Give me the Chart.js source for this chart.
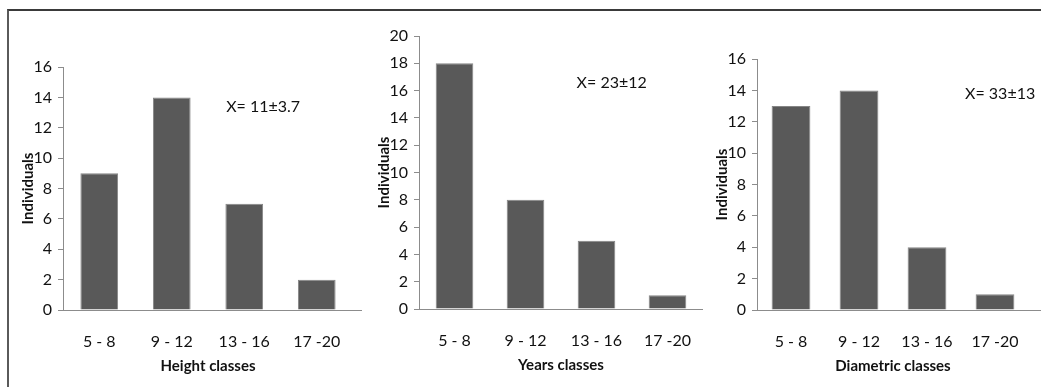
<!DOCTYPE html>
<html>
<head>
<meta charset="utf-8">
<script src="https://cdn.jsdelivr.net/npm/chart.js@4"></script>
<style>
  body { margin: 0; background: #fff; }
  #wrap { position: relative; width: 1041px; height: 387px; overflow: hidden; }
  #frame { position: absolute; left: 7px; top: 9px; width: 1040px; height: 380px;
           border-top: 2px solid #3a3a3a; border-left: 2px solid #5a5a5a; }
  canvas { position: absolute; left: 0; top: 0; }
</style>
</head>
<body>
<div id="wrap">
  <div id="frame"></div>
  <canvas id="c1" width="1041" height="387"></canvas>
  <canvas id="c2" width="1041" height="387"></canvas>
  <canvas id="c3" width="1041" height="387"></canvas>
</div>
<script>
var classes = ['5 - 8', '9 - 12', '13 - 16', '17 -20'];

var heightValues = [9, 14, 7, 2];
var yearsValues = [18, 8, 5, 1];
var diameterValues = [13, 14, 4, 1];

var heightTitle = 'Height classes';
var yearsTitle = 'Years classes';
var diameterTitle = 'Diametric classes';

var heightNote = 'X= 11\u00B13.7';
var yearsNote = 'X= 23\u00B112';
var diameterNote = 'X= 33\u00B113';

var FONT = 'Lato, sans-serif';

// writes the mean +- sd text inside the plot
var notePlugin = {
    id: 'note',
    afterDatasetsDraw: function (chart, args, opts) {
        var ctx = chart.ctx;
        var x = chart.scales.x.getPixelForValue(opts.x);
        var y = chart.scales.y.getPixelForValue(opts.y);
        ctx.save();
        ctx.font = '16px ' + FONT;
        ctx.fillStyle = '#111';
        ctx.textAlign = 'left';
        ctx.textBaseline = 'middle';
        ctx.fillText(opts.text, x, y);
        ctx.restore();
    }
};

// the baseline runs a little past the plot like in excel
var baselinePlugin = {
    id: 'baseline',
    afterDraw: function (chart, args, opts) {
        var ctx = chart.ctx;
        var area = chart.chartArea;
        var y = chart.scales.y.getPixelForValue(0);
        ctx.save();
        ctx.strokeStyle = '#8c8c8c';
        ctx.lineWidth = 1;
        ctx.beginPath();
        ctx.moveTo(area.left - 5, Math.round(y) + 0.5);
        ctx.lineTo(area.right + opts.extra, Math.round(y) + 0.5);
        ctx.stroke();
        ctx.restore();
    }
};

function makeChart(id, values, xTitle, note, yMax, box, barPct, extra) {
    var ctx = document.getElementById(id);
    return new Chart(ctx, {
        type: 'bar',
        data: {
            labels: classes,
            datasets: [{
                data: values,
                backgroundColor: '#595959',
                borderColor: '#858585',
                borderWidth: 1,
                barPercentage: barPct,
                categoryPercentage: 1
            }]
        },
        options: {
            responsive: false,
            animation: false,
            events: [],
            layout: {
                padding: {
                    left: box.L - 60,
                    top: box.T,
                    right: 1041 - box.R,
                    bottom: 387 - box.B - 70
                }
            },
            plugins: {
                legend: { display: false },
                tooltip: { enabled: false },
                note: note,
                baseline: { extra: extra }
            },
            scales: {
                x: {
                    grid: { display: false },
                    border: { display: false },
                    ticks: { color: '#111', padding: 14, font: { family: FONT, size: 16 } },
                    title: {
                        display: true,
                        text: xTitle,
                        color: '#111',
                        padding: { top: 0, bottom: 5 },
                        font: { family: FONT, size: 15, weight: 'bold' }
                    },
                    afterFit: function (s) { s.height = 70; }
                },
                y: {
                    min: 0,
                    max: yMax,
                    grid: { drawOnChartArea: false, drawTicks: true, tickLength: 5, color: '#8c8c8c' },
                    border: { color: '#8c8c8c' },
                    ticks: { stepSize: 2, color: '#111', padding: 6, font: { family: FONT, size: 16 } },
                    title: {
                        display: true,
                        text: 'Individuals',
                        color: '#111',
                        padding: { top: 16, bottom: 0 },
                        font: { family: FONT, size: 15, weight: 'bold' }
                    },
                    afterFit: function (s) { s.width = 60; }
                }
            }
        },
        plugins: [notePlugin, baselinePlugin]
    });
}

makeChart('c1', heightValues, heightTitle, { text: heightNote, x: 1.75, y: 13.4 },
    16, { L: 63, T: 67, R: 353, B: 310 }, 0.52, 9);
makeChart('c2', yearsValues, yearsTitle, { text: yearsNote, x: 1.72, y: 16.6 },
    20, { L: 419, T: 36, R: 703, B: 309 }, 0.53, 0);
makeChart('c3', diameterValues, diameterTitle, { text: diameterNote, x: 2.56, y: 13.8 },
    16, { L: 757, T: 59, R: 1029, B: 310 }, 0.57, 12);
</script>
</body>
</html>
